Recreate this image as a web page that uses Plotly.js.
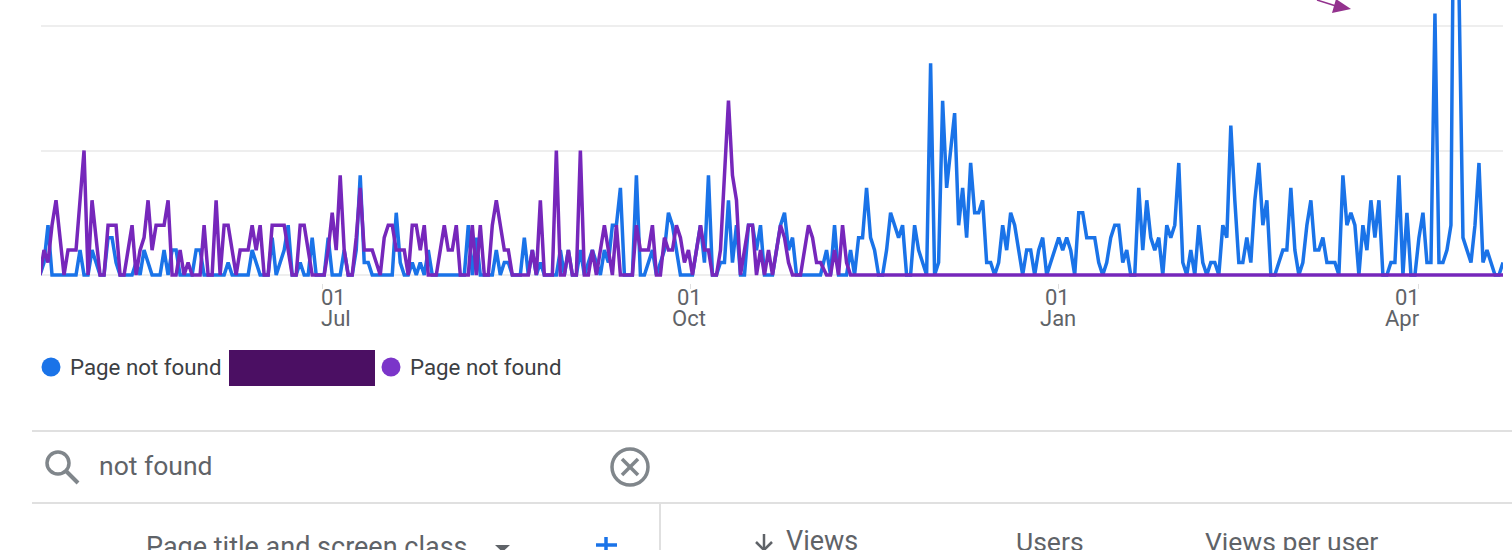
<!DOCTYPE html>
<html><head><meta charset="utf-8">
<script src="https://cdn.plot.ly/plotly-3.0.1.min.js"></script>
<style>html,body{margin:0;padding:0;background:#fff;overflow:hidden}#c{width:1512px;height:550px}</style>
</head><body><div id="c"></div><script>
const startDate = "2022-04-22";
const seriesName = "Page not found";
const blueViews = [
0,1,4,0,0,0,0,0,0,0, 2,0,0,2,1,0,0,3,3,1, 0,0,0,0,1,0,2,1,0,0, 0,2,0,2,2,0,0,0,0,2,
2,0,0,0,0,0,0,1,0,0, 0,0,0,2,1,0,0,0,3,0, 1,2,4,0,0,1,0,0,3,0, 0,0,3,0,0,0,2,0,0,2,
8,1,1,0,0,0,0,0,0,5, 1,0,0,1,0,1,0,2,0,0, 0,0,0,0,0,0,0,4,0,3, 0,0,0,0,2,0,1,1,0,0,
0,3,0,2,0,1,0,0,0,0, 2,0,2,0,0,2,0,1,2,1, 0,2,1,4,4,7,0,0,0,8, 0,0,1,2,0,1,2,5,4,2,
0,0,0,0,2,4,1,8,0,0, 1,1,6,1,4,0,0,4,4,2, 4,0,0,0,2,4,5,2,3,0, 0,0,0,0,0,0,2,0,4,0,
0,0,2,0,3,3,7,3,2,0, 0,2,5,4,3,4,0,0,4,2, 1,0,17,0,1,14,7,10,13,4, 7,3,9,5,5,6,1,1,0,1,
4,2,5,4,2,0,2,2,0,2, 3,0,1,2,3,2,3,2,0,5, 5,3,3,3,1,0,1,3,4,4, 1,2,0,0,7,2,6,3,2,3,
0,4,3,4,9,1,0,2,0,4, 1,0,1,1,0,4,3,12,6,1, 1,3,1,6,9,4,6,0,0,1, 2,2,7,2,0,1,4,6,2,2,
3,1,1,1,0,8,4,5,4,0, 4,2,6,3,6,0,0,1,1,8, 0,5,0,0,3,5,1,1,21,1, 1,2,4,45,23,3,2,1,4,9,
1,2,1,0,0,1];
const purpleViews = [
0,2,1,4,6,3,0,2,2,2, 6,10,0,6,3,0,0,4,4,4, 0,0,2,4,0,2,3,6,2,4, 4,4,6,0,0,2,0,1,0,0,
0,4,0,0,6,0,4,4,2,0, 2,2,2,4,2,4,0,0,4,4, 4,4,2,0,0,4,4,2,0,0, 0,0,2,5,2,8,2,0,0,3,
7,2,2,2,1,0,3,4,4,2, 2,2,0,4,4,2,4,0,0,0, 2,4,2,2,4,0,0,0,4,0, 4,0,0,4,6,4,2,2,0,0,
0,0,0,2,0,6,0,0,0,10, 0,0,2,0,0,10,0,0,2,0, 2,4,2,0,4,0,0,0,0,4, 2,2,2,4,0,0,3,2,2,4,
3,1,2,0,2,4,2,2,0,0, 2,8,14,8,6,0,2,4,4,0, 2,0,2,0,2,4,3,1,0,0, 0,2,4,3,1,1,0,0,2,0,
4,1,0,0,0,0,0,0,0,0, 0,0,0,0,0,0,0,0,0,0, 0,0,0,0,0,0,0,0,0,0, 0,0,0,0,0,0,0,0,0,0,
0,0,0,0,0,0,0,0,0,0, 0,0,0,0,0,0,0,0,0,0, 0,0,0,0,0,0,0,0,0,0, 0,0,0,0,0,0,0,0,0,0,
0,0,0,0,0,0,0,0,0,0, 0,0,0,0,0,0,0,0,0,0, 0,0,0,0,0,0,0,0,0,0, 0,0,0,0,0,0,0,0,0,0,
0,0,0,0,0,0,0,0,0,0, 0,0,0,0,0,0,0,0,0,0, 0,0,0,0,0,0,0,0,0,0, 0,0,0,0,0,0,0,0,0,0,
0,0,0,0,0,0];
const tickDates = ["2022-07-01","2022-10-01","2023-01-01","2023-04-01"];
const tickDays = ["01","01","01","01"];
const tickMonths = ["Jul","Oct","Jan","Apr"];
const tickAnchors = ["left","center","center","right"];
const yGrid = [0,10,20];
const headers = ["Page title and screen class","Views","Users","Views per user"];
const searchText = "not found";

// The screenshot's early days sit half a day left of the later ones.
const dates = blueViews.map((_, i) => {
  const d = new Date(Date.parse(startDate + "T00:00:00Z") + i * 864e5 - (i < 196 ? 432e5 : 0));
  return d.toISOString().slice(0, 16).replace("T", " ");
});

const W = 1512, H = 550, ML = 41, MR = 9, MT = 0, PB = 283;
const px = x => (x - ML) / (W - ML - MR);
const py = y => 1 - (y - MT) / (PB - MT);
const FONT = "Roboto, Arial, sans-serif";

function label(x, y, text, size, color, anchor) {
  return {xref: "paper", yref: "paper", x: px(x), y: py(y), text, showarrow: false,
    xanchor: anchor || "left", yanchor: "middle", align: anchor || "left",
    font: {family: FONT, size, color}};
}
function line(x0, y0, x1, y1, color, width) {
  return {type: "line", xref: "paper", yref: "paper", x0: px(x0), y0: py(y0), x1: px(x1), y1: py(y1),
    line: {color, width}, layer: "above"};
}
function circle(cx, cy, r, fill, stroke, sw) {
  return {type: "circle", xref: "paper", yref: "paper", x0: px(cx - r), x1: px(cx + r), y0: py(cy + r), y1: py(cy - r),
    fillcolor: fill, line: {color: stroke || fill, width: sw || 0}, layer: "above"};
}
function poly(points, color) {
  const path = points.map((p, i) => (i ? "L" : "M") + px(p[0]) + "," + py(p[1])).join(" ") + " Z";
  return {type: "path", xref: "paper", yref: "paper", path, fillcolor: color, line: {color, width: 0}, layer: "above"};
}

const traces = [
  {x: dates, y: blueViews, name: seriesName, type: "scatter", mode: "lines", line: {color: "#1a73e8", width: 3.5, shape: "linear"}},
  {x: dates, y: purpleViews, name: seriesName, type: "scatter", mode: "lines", line: {color: "#7627bb", width: 3.5, shape: "linear"}}
];

const anchorShift = {left: -3, center: -1, right: 3};
const annotations = [];
tickDates.forEach((d, i) => {
  const a = tickAnchors[i];
  annotations.push({xref: "x", yref: "paper", x: d, y: py(297), text: tickDays[i], showarrow: false,
    xanchor: a, yanchor: "middle", xshift: anchorShift[a], font: {family: FONT, size: 22, color: "#5f6368"}});
  annotations.push({xref: "x", yref: "paper", x: d, y: py(318), text: tickMonths[i], showarrow: false,
    xanchor: a, yanchor: "middle", xshift: anchorShift[a], font: {family: FONT, size: 22, color: "#5f6368"}});
});
annotations.push(
  label(68, 367, seriesName, 22.3, "#3c4043"),
  label(408, 367, seriesName, 22.3, "#3c4043"),
  label(97, 465, searchText, 26.5, "#5f6368"),
  label(144, 547, headers[0], 27, "#5f6368"),
  label(784, 541, headers[1], 27, "#5f6368"),
  label(1014, 541, headers[2], 26.5, "#5f6368"),
  label(1203, 541, headers[3], 26.5, "#5f6368")
);

const shapes = [
  // annotation arrow in the top of the screenshot
  line(1317, 0, 1336, 6, "#93328e", 1.5),
  poly([[1336, -1], [1351, 9], [1332, 13]], "#93328e"),
  // legend
  circle(51, 367, 9.5, "#1a73e8"),
  circle(391, 367, 9.5, "#7b35c9"),
  {type: "rect", xref: "paper", yref: "paper", x0: px(229), x1: px(375), y0: py(386), y1: py(350),
    fillcolor: "#4b0f63", line: {width: 0}, layer: "above"},
  // table rules
  line(32, 431, 1512, 431, "#e0e0e0", 2),
  line(32, 503, 1512, 503, "#e0e0e0", 2),
  line(660, 503, 660, 550, "#e0e0e0", 2),
  // search icon
  circle(58, 463, 11, "rgba(0,0,0,0)", "#80868b", 3.5),
  line(66, 471, 78, 483, "#80868b", 4),
  // clear icon
  circle(630, 467, 18, "rgba(0,0,0,0)", "#80868b", 3.5),
  line(622, 459, 638, 475, "#80868b", 3.5),
  line(638, 459, 622, 475, "#80868b", 3.5),
  // header controls
  poly([[495, 545], [510, 545], [502.5, 552]], "#5f6368"),
  line(606, 537, 606, 552, "#1a73e8", 3.5),
  line(596, 545, 617, 545, "#1a73e8", 3.5),
  line(764, 534, 764, 550, "#5f6368", 2.5),
  line(756, 542, 764, 550, "#5f6368", 2.5),
  line(772, 542, 764, 550, "#5f6368", 2.5)
];

Plotly.newPlot("c", traces, {
  width: W, height: H,
  margin: {l: ML, r: MR, t: MT, b: H - PB, pad: 0},
  paper_bgcolor: "#fff", plot_bgcolor: "#fff",
  showlegend: false,
  font: {family: FONT},
  xaxis: {type: "date", range: ["2022-04-21 18:00", "2023-04-22 00:00"], showgrid: false, zeroline: false,
    showline: false, tickmode: "array", tickvals: tickDates, ticktext: tickDates.map(() => ""),
    ticks: "outside", ticklen: 5, tickcolor: "#e0e0e0", tickwidth: 1, showticklabels: false},
  yaxis: {range: [-0.643, 22.09], tickmode: "array", tickvals: yGrid, showticklabels: false, ticks: "",
    showgrid: true, gridcolor: "#eeeeee", gridwidth: 2, zeroline: false, showline: false},
  annotations, shapes
}, {staticPlot: true, displayModeBar: false});
</script></body></html>
